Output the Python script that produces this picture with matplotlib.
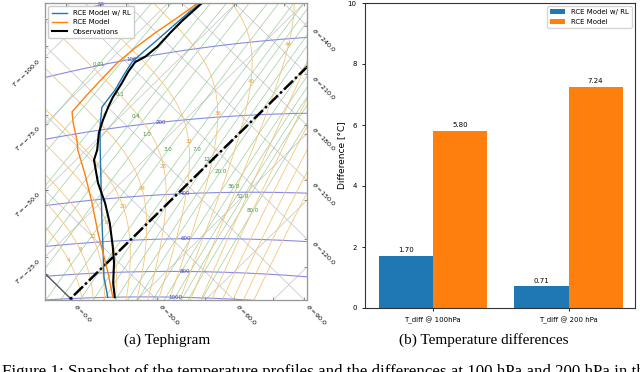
import numpy as np
import matplotlib.pyplot as plt

# ----------------------------
# Data
# ----------------------------

# tephigram profiles: pressure [hPa], temperature [degC]
obs_p = [1000, 880, 734, 634, 506, 416, 340, 269, 244, 206, 181, 159, 145, 127, 114, 104, 100, 92, 81, 73, 63]
obs_t = [15.7, 9.8, 2.6, -3.8, -13.9, -23.2, -33.3, -43.4, -46.0, -51.7, -55.1, -58.1, -60.0, -62.0, -63.9,
         -65.0, -63.3, -62.6, -63.1, -63.2, -62.6]

rl_p = [1000, 832, 648, 475, 341, 245, 194, 158, 135, 115, 103, 96, 86, 72, 63]
rl_t = [13.2, 4.2, -6.3, -19.1, -32.2, -44.9, -53.5, -60.3, -61.9, -64.6, -66.2, -65.9, -65.2, -64.3, -63.3]

rce_p = [1000, 803, 666, 551, 411, 304, 238, 214, 177, 157, 137, 121, 101, 89, 79, 70, 62]
rce_t = [15.0, 4.2, -5.2, -14.5, -28.0, -41.8, -53.0, -57.1, -65.0, -69.5, -70.3, -70.8, -71.3, -70.3,
         -68.6, -66.1, -64.0]

# tephigram background lines
isobars = [1000, 800, 600, 400, 200, 100, 50]
isobar_label_t = [38, 32, 20, 2.5, -33, -67.5, -99]
mixing_ratios = [0.01, 0.03, 0.1, 0.2, 0.4, 0.6, 1.0, 2.0, 3.0, 5.0, 7.0, 9.0, 12.0, 16.0, 20.0,
                 28.0, 36.0, 44.0, 52.0, 60.0, 80.0]
mixing_labels = [0.01, 0.1, 0.4, 1.0, 3.0, 7.0, 12.0, 20.0, 36.0, 52.0, 80.0]
wet_adiabats = [4, 8, 12, 16, 20, 24, 28, 32, 36, 40, 44, 48, 52, 56, 60, 64, 68]
isotherm_steps = list(range(-200, 201, 25))
theta_steps = list(range(-60, 361, 30))

# bar chart
categories = ["T_diff @ 100hPa", "T_diff @ 200 hPa"]
diff_rl = [1.70, 0.71]
diff_rce = [5.80, 7.24]

KAPPA = 0.2857
MA = 300.0
XLIM = (-18.8, 173.8)
YLIM = (-1.05, 221.8)


def phi(theta_c):
    return MA * np.log((np.asarray(theta_c, float) + 273.15) / 273.15)


def to_xy(p, t):
    p = np.asarray(p, float)
    t = np.asarray(t, float)
    theta = (t + 273.15) * (1000.0 / p) ** KAPPA
    ph = MA * np.log(theta / 273.15)
    return t + ph, ph - t


def inside(x, y):
    return (x > XLIM[0]) & (x < XLIM[1]) & (y > YLIM[0]) & (y < YLIM[1])


def moist_slope(p, tk):
    rd, cp, lv, eps = 287.04, 1005.7, 2.501e6, 0.622
    tc = tk - 273.15
    es = 6.112 * np.exp(17.67 * tc / (tc + 243.5))
    rs = eps * es / (p - es)
    return (rd * tk + lv * rs) / (p * (cp + lv ** 2 * rs * eps / (rd * tk ** 2)))


def integrate(t0, ps):
    ts = [t0 + 273.15]
    for p0, p1 in zip(ps[:-1], ps[1:]):
        dp = p1 - p0
        k1 = moist_slope(p0, ts[-1])
        k2 = moist_slope(p1, ts[-1] + k1 * dp)
        ts.append(ts[-1] + 0.5 * (k1 + k2) * dp)
    return np.array(ts) - 273.15


def tephigram(ax):
    big = np.array([-500.0, 500.0])

    # ----------------------------
    # isotherms and dry adiabats
    # ----------------------------
    for t in isotherm_steps:
        ax.plot(t + big, big - t, color='0.8', lw=0.6, zorder=1)
    for th in theta_steps:
        L = phi(th)
        ax.plot(big + L, L - big, color='0.8', lw=0.6, zorder=1)
    ax.plot(big + phi(0), phi(0) - big, color='0.35', lw=1.0, zorder=3)
    ax.plot(big, big, color='black', lw=1.8, ls=(0, (5, 1.2, 1, 1.2)), zorder=3)

    # ----------------------------
    # isobars
    # ----------------------------
    tt = np.linspace(-160, 130, 400)
    for p, tl in zip(isobars, isobar_label_t):
        x, y = to_xy(np.full_like(tt, p), tt)
        ax.plot(x, y, color='#8a8ae6', lw=0.8, zorder=2)
        lx, ly = to_xy(p, tl)
        ax.text(lx, ly, str(p), color='#4848c0', fontsize=4, ha='center', va='center', zorder=2.5)

    # ----------------------------
    # mixing ratio lines
    # ----------------------------
    ps = np.geomspace(1100, 5, 800)
    for w in mixing_ratios:
        e = w * ps / (622.0 + w)
        lne = np.log(e / 6.112)
        t = 243.5 * lne / (17.67 - lne)
        x, y = to_xy(ps, t)
        ax.plot(x, y, color='#7cbf7c', lw=0.5, alpha=0.75, zorder=2)
        m = inside(x, y)
        if w in mixing_labels and m.sum() > 1:
            xi, yi = x[m], y[m]
            d = np.concatenate([[0], np.cumsum(np.hypot(np.diff(xi) * 1.36, np.diff(yi) * 1.333))])
            k = np.searchsorted(d, d[-1] / 2)
            ax.text(xi[k], yi[k], f"{w}", color='#3f8f3f', fontsize=4, ha='center', va='center', zorder=2.5)

    # ----------------------------
    # wet adiabats
    # ----------------------------
    p_up = np.arange(1000.0, 9.0, -2.0)
    p_dn = np.arange(1000.0, 1101.0, 2.0)
    for tw in wet_adiabats:
        t_up = integrate(tw, p_up)
        t_dn = integrate(tw, p_dn)
        pp = np.concatenate([p_dn[::-1], p_up[1:]])
        t = np.concatenate([t_dn[::-1], t_up[1:]])
        x, y = to_xy(pp, t)
        ax.plot(x, y, color='#f5c67a', lw=0.6, zorder=2)
        k = np.argmax(t_up <= -15)
        lx, ly = to_xy(p_up[k], t_up[k])
        if tw <= 44 and inside(lx, ly):
            ax.text(lx, ly, str(tw), color='#e8a03a', fontsize=4, ha='center', va='center', zorder=2.5)

    # ----------------------------
    # profiles
    # ----------------------------
    x, y = to_xy(rl_p, rl_t)
    ax.plot(x, y, color='#1f77b4', lw=1.0, zorder=4, label='RCE Model w/ RL')
    x, y = to_xy(rce_p, rce_t)
    ax.plot(x, y, color='#ff7f0e', lw=1.0, zorder=4, label='RCE Model')
    x, y = to_xy(obs_p, obs_t)
    ax.plot(x, y, color='black', lw=1.5, zorder=4, label='Observations')

    ax.set_xlim(XLIM)
    ax.set_ylim(YLIM)
    ax.legend(loc='upper left', fontsize=5, handlelength=2.2, borderpad=0.5, labelspacing=0.5,
              framealpha=1.0, bbox_to_anchor=(0.0, 1.0))

    # ----------------------------
    # edge ticks and labels
    # ----------------------------
    th_t = np.arange(0, 361, 30)
    t_t = np.arange(-200, 201, 25)

    def ticks(items, lim):
        items = sorted([it for it in items if lim[0] <= it[0] <= lim[1]])
        return [it[0] for it in items], [it[1] for it in items]

    bottom = [(2 * phi(v) - YLIM[0], f"$\\theta={v:.1f}$") for v in th_t] + [(2 * v + YLIM[0], "") for v in t_t]
    left = [(XLIM[0] - 2 * v, f"$T={v:.1f}$") for v in t_t] + [(2 * phi(v) - XLIM[0], "") for v in th_t]
    right = [(2 * phi(v) - XLIM[1], f"$\\theta={v:.1f}$") for v in th_t] + [(XLIM[1] - 2 * v, "") for v in t_t]
    top = [(YLIM[1] + 2 * v, "") for v in t_t] + [(2 * phi(v) - YLIM[1], "") for v in th_t]

    pos, lab = ticks(bottom, XLIM)
    ax.set_xticks(pos, lab, rotation=-45, ha='left', va='top', fontsize=4.6)
    pos, lab = ticks(left, YLIM)
    ax.set_yticks(pos, lab, rotation=45, ha='right', va='top', fontsize=4.6)
    ax.tick_params(length=2, width=0.5, color='0.4', pad=2, direction='in')

    axr = ax.twinx()
    axr.set_ylim(YLIM)
    pos, lab = ticks(right, YLIM)
    axr.set_yticks(pos, lab, rotation=-45, ha='left', va='top', fontsize=4.6)
    axr.tick_params(length=2, width=0.5, color='0.4', pad=2, direction='in')

    axt = ax.twiny()
    axt.set_xlim(XLIM)
    pos, lab = ticks(top, XLIM)
    axt.set_xticks(pos, lab)
    axt.tick_params(length=2, width=0.5, color='0.4', direction='in')

    for a in (ax, axr, axt):
        for s in a.spines.values():
            s.set_color('0.6')


def main():
    fig = plt.figure(figsize=(6.4, 3.72), dpi=100)

    ax1 = fig.add_axes([45 / 640, 72 / 372, 262 / 640, 297 / 372])
    tephigram(ax1)

    # ----------------------------
    # temperature differences
    # ----------------------------
    ax2 = fig.add_axes([365 / 640, 64 / 372, 270 / 640, 305 / 372])
    x = np.arange(len(categories))
    w = 0.4
    b1 = ax2.bar(x - w / 2, diff_rl, w, color='#1f77b4', label='RCE Model w/ RL')
    b2 = ax2.bar(x + w / 2, diff_rce, w, color='#ff7f0e', label='RCE Model')
    ax2.bar_label(b1, fmt='%.2f', fontsize=5, padding=2)
    ax2.bar_label(b2, fmt='%.2f', fontsize=5, padding=2)
    ax2.set_xlim(-0.5, 1.49)
    ax2.set_ylim(0, 10)
    ax2.set_xticks(x, categories)
    ax2.tick_params(labelsize=5, length=2.5, width=0.6)
    ax2.set_ylabel("Difference [°C]", fontsize=6.5, labelpad=1)
    ax2.legend(loc='upper right', fontsize=5, handlelength=2.2)
    for s in ax2.spines.values():
        s.set_linewidth(0.8)
        s.set_color('0.2')

    # ----------------------------
    # captions
    # ----------------------------
    serif = 'Liberation Serif'
    fig.text(167 / 640, 1 - 340 / 372, "(a) Tephigram", family=serif, fontsize=11, ha='center', va='center')
    fig.text(484 / 640, 1 - 340 / 372, "(b) Temperature differences", family=serif, fontsize=11,
             ha='center', va='center')
    fig.text(0.003, 1 - 364 / 372,
             "Figure 1: Snapshot of the temperature profiles and the differences at 100 hPa and 200 hPa in the lower",
             family=serif, fontsize=12.2, ha='left', va='top')

    fig.savefig("out.png", dpi=100)


if __name__ == "__main__":
    main()
